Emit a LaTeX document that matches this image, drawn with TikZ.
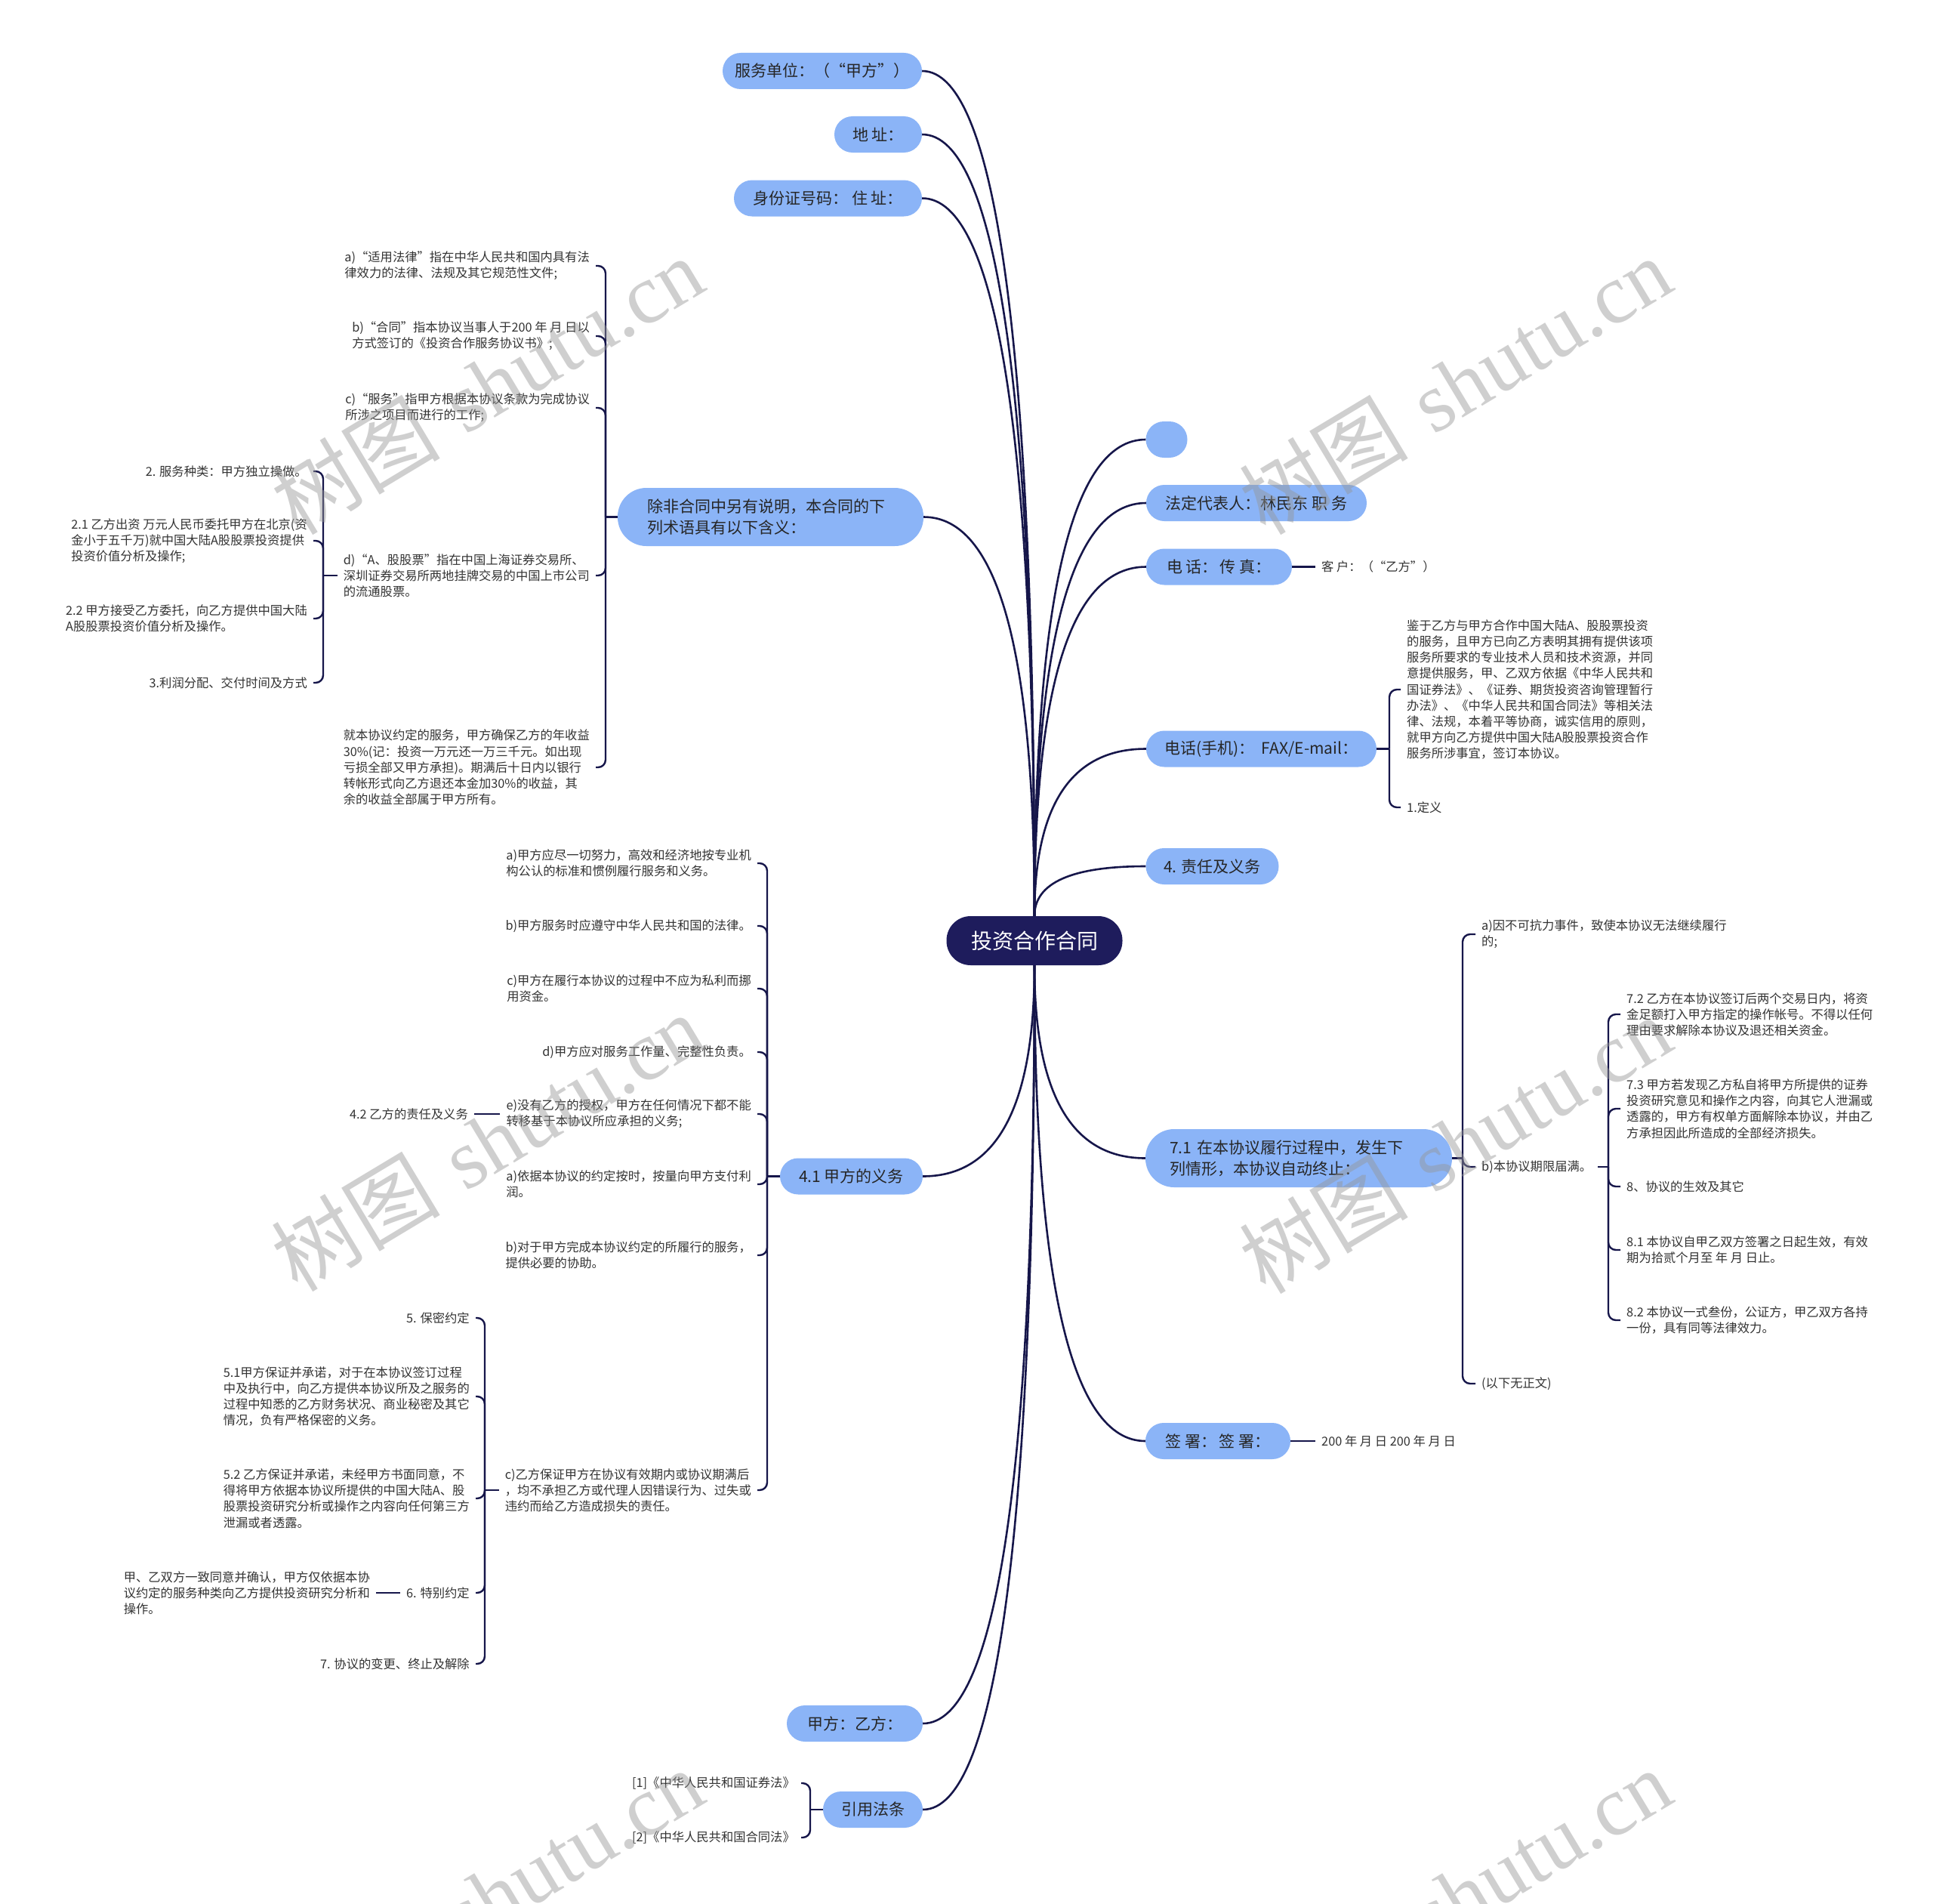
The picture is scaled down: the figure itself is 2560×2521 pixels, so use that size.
\documentclass[tikz,border=0pt]{standalone}
\usepackage{fontspec}
\setmainfont{Noto Sans CJK SC}
\newfontfamily\wmserif{Liberation Serif}
\usetikzlibrary{calc}
\definecolor{navy}{HTML}{1E1C5C}
\definecolor{edgec}{HTML}{16164A}
\definecolor{nodeblue}{HTML}{8BB4F7}
\definecolor{ntext}{HTML}{262626}
\definecolor{ltext}{HTML}{333333}
\definecolor{wm}{HTML}{969696}
\newcommand{\qedge}[2]{\draw[mainedge] (#1) .. controls ($(#1)!0.6667!(#1 |- #2)$) and ($(#2)!0.6667!(#1 |- #2)$) .. (#2);}
\begin{document}
\begin{tikzpicture}[x=1pt,y=-1pt,
  bnode/.style={fill=nodeblue, rounded corners=24pt, minimum height=48pt, inner sep=0pt, text=ntext, font=\fontsize{21}{28.5}\selectfont},
  leafR/.style={anchor=west, inner xsep=8pt, inner ysep=1pt, text=ltext, font=\fontsize{16.3}{21.2}\selectfont, align=left},
  leafL/.style={anchor=east, inner xsep=8pt, inner ysep=1pt, text=ltext, font=\fontsize{16.3}{21.2}\selectfont, align=left},
  mainedge/.style={draw=edgec, line width=2.6pt},
  sub/.style={draw=edgec, line width=2.4pt, rounded corners=10pt},
  wmark/.style={text=wm, text opacity=0.45, rotate=31, font=\fontsize{112}{112}\selectfont}
]
\useasboundingbox (0,0) rectangle (2560,2521);
\clip (0,0) rectangle (2560,2521);
\fill[white] (0,0) rectangle (2560,2521);

% centre
\node[fill=navy, rounded corners=32pt, minimum width=233pt, minimum height=65pt, inner sep=0pt, text=white, font=\fontsize{28}{34}\selectfont] (c) at (1370,1245.5) {投资合作合同};

% left branches
\node[bnode, minimum width=264pt] (l1) at (1089,94) {服务单位：（“甲方”）};
\node[bnode, minimum width=116pt] (l2) at (1163,178) {地 址：};
\node[bnode, minimum width=249pt] (l3) at (1096.5,262.5) {身份证号码：\hspace{5pt}住 址：};
\node[bnode, minimum width=405pt, minimum height=77pt, rounded corners=38pt, text width=327pt, align=left] (l4) at (1020.5,684.5) {除非合同中另有说明，本合同的下\\列术语具有以下含义：};
\node[bnode, minimum width=189pt] (l5) at (1127.5,1557.5) {4.1 甲方的义务};
\node[bnode, minimum width=180pt] (l6) at (1132,2282) {甲方：乙方：};
\node[bnode, minimum width=132pt] (l7) at (1156,2396) {引用法条};

% right branches
\node[bnode, minimum width=55pt] (r1) at (1545,582) {};
\node[bnode, minimum width=292pt] (r2) at (1664,666) {法定代表人：林民东 职 务};
\node[bnode, minimum width=193pt] (r3) at (1614.5,750.5) {电 话：\hspace{3pt}传 真：};
\node[bnode, minimum width=305pt] (r4) at (1670.5,991.5) {电话(手机)：\hspace{9pt}FAX/E-mail：};
\node[bnode, minimum width=176pt] (r5) at (1605.5,1147) {4. 责任及义务};
\node[bnode, minimum width=406pt, minimum height=77pt, rounded corners=38pt, text width=342pt, align=left] (r6) at (1720,1533.5) {7.1 在本协议履行过程中，发生下\\列情形，本协议自动终止：};
\node[bnode, minimum width=192pt] (r7) at (1613,1908) {签 署：\hspace{3pt}签 署：};

% main edges
\qedge{c.north}{l1.east}
\qedge{c.north}{l2.east}
\qedge{c.north}{l3.east}
\qedge{c.north}{l4.east}
\qedge{c.south}{l5.east}
\qedge{c.south}{l6.east}
\qedge{c.south}{l7.east}
\qedge{c.north}{r1.west}
\qedge{c.north}{r2.west}
\qedge{c.north}{r3.west}
\qedge{c.north}{r4.west}
\qedge{c.north}{r5.west}
\qedge{c.south}{r6.west}
\qedge{c.south}{r7.west}

% right leaves
\node[leafR] (kehu) at (1742,750.5) {客 户：（“乙方”）};
\node[leafR] (date) at (1742,1908) {200 年 月 日 200 年 月 日};
\draw[sub] (r3.east) -- (kehu.west);
\draw[sub] (r7.east) -- (date.west);

\coordinate (T4) at (1840,991.5);
\node[leafR] (jianyu) at (1855,913) {鉴于乙方与甲方合作中国大陆A、股股票投资\\的服务，且甲方已向乙方表明其拥有提供该项\\服务所要求的专业技术人员和技术资源，并同\\意提供服务，甲、乙双方依据《中华人民共和\\国证券法》、《证券、期货投资咨询管理暂行\\办法》、《中华人民共和国合同法》等相关法\\律、法规，本着平等协商，诚实信用的原则，\\就甲方向乙方提供中国大陆A股股票投资合作\\服务所涉事宜，签订本协议。};
\node[leafR] (dingyi) at (1855,1069) {1.定义};
\draw[sub] (r4.east) -- (T4);
\draw[sub] (T4) |- (jianyu.west);
\draw[sub] (T4) |- (dingyi.west);

\coordinate (T6) at (1937,1533.5);
\node[leafR] (a71) at (1954,1237) {a)因不可抗力事件，致使本协议无法继续履行\\的;};
\node[leafR] (b71) at (1954,1545) {b)本协议期限届满。};
\node[leafR] (wu) at (1954,1832) {(以下无正文)};
\draw[sub] (r6.east) -- (T6);
\draw[sub] (T6) |- (a71.west);
\draw[sub] (T6) |- (b71.west);
\draw[sub] (T6) |- (wu.west);

\coordinate (Tb) at (2130,1545);
\node[leafR] (s72) at (2146,1343) {7.2 乙方在本协议签订后两个交易日内，将资\\金足额打入甲方指定的操作帐号。不得以任何\\理由要求解除本协议及退还相关资金。};
\node[leafR] (s73) at (2146,1468) {7.3 甲方若发现乙方私自将甲方所提供的证券\\投资研究意见和操作之内容，向其它人泄漏或\\透露的，甲方有权单方面解除本协议，并由乙\\方承担因此所造成的全部经济损失。};
\node[leafR] (s8) at (2146,1571) {8、协议的生效及其它};
\node[leafR] (s81) at (2146,1655) {8.1 本协议自甲乙双方签署之日起生效，有效\\期为拾贰个月至 年 月 日止。};
\node[leafR] (s82) at (2146,1748) {8.2 本协议一式叁份，公证方，甲乙双方各持\\一份，具有同等法律效力。};
\draw[sub] (b71.east) -- (Tb);
\draw[sub] (Tb) |- (s72.west);
\draw[sub] (Tb) |- (s73.west);
\draw[sub] (Tb) |- (s8.west);
\draw[sub] (Tb) |- (s81.west);
\draw[sub] (Tb) |- (s82.west);

% left leaves: definitions
\coordinate (TL4) at (802,684.5);
\node[leafL] (da) at (789,352) {a)“适用法律”指在中华人民共和国内具有法\\律效力的法律、法规及其它规范性文件;};
\node[leafL] (db) at (789,445) {b)“合同”指本协议当事人于200 年 月 日以\\方式签订的《投资合作服务协议书》;};
\node[leafL] (dc) at (789,540) {c)“服务”指甲方根据本协议条款为完成协议\\所涉之项目而进行的工作;};
\node[leafL] (dd) at (789,762) {d)“A、股股票”指在中国上海证券交易所、\\深圳证券交易所两地挂牌交易的中国上市公司\\的流通股票。};
\node[leafL] (dj) at (789,1016) {就本协议约定的服务，甲方确保乙方的年收益\\30\%(记：投资一万元还一万三千元。如出现\\亏损全部又甲方承担)。期满后十日内以银行\\转帐形式向乙方退还本金加30\%的收益，其\\余的收益全部属于甲方所有。};
\draw[sub] (l4.west) -- (TL4);
\draw[sub] (TL4) |- (da.east);
\draw[sub] (TL4) |- (db.east);
\draw[sub] (TL4) |- (dc.east);
\draw[sub] (TL4) |- (dd.east);
\draw[sub] (TL4) |- (dj.east);

\coordinate (Td) at (428,762);
\node[leafL] (d2) at (415,624) {2. 服务种类：甲方独立操做。};
\node[leafL] (d21) at (415,716) {2.1 乙方出资 万元人民币委托甲方在北京(资\\金小于五千万)就中国大陆A股股票投资提供\\投资价值分析及操作;};
\node[leafL] (d22) at (415,819) {2.2 甲方接受乙方委托，向乙方提供中国大陆\\A股股票投资价值分析及操作。};
\node[leafL] (d3) at (415,904) {3.利润分配、交付时间及方式};
\draw[sub] (dd.west) -- (Td);
\draw[sub] (Td) |- (d2.east);
\draw[sub] (Td) |- (d21.east);
\draw[sub] (Td) |- (d22.east);
\draw[sub] (Td) |- (d3.east);

% left leaves: 4.1
\coordinate (T41) at (1016,1557.5);
\node[leafL] (fa) at (1003,1143) {a)甲方应尽一切努力，高效和经济地按专业机\\构公认的标准和惯例履行服务和义务。};
\node[leafL] (fb) at (1003,1226) {b)甲方服务时应遵守中华人民共和国的法律。};
\node[leafL] (fc) at (1003,1309) {c)甲方在履行本协议的过程中不应为私利而挪\\用资金。};
\node[leafL] (fd) at (1003,1393) {d)甲方应对服务工作量、完整性负责。};
\node[leafL] (fe) at (1003,1475) {e)没有乙方的授权，甲方在任何情况下都不能\\转移基于本协议所应承担的义务;};
\node[leafL] (ya) at (1003,1568) {a)依据本协议的约定按时，按量向甲方支付利\\润。};
\node[leafL] (yb) at (1003,1662) {b)对于甲方完成本协议约定的所履行的服务，\\提供必要的协助。};
\node[leafL] (yc) at (1003,1973) {c)乙方保证甲方在协议有效期内或协议期满后\\，均不承担乙方或代理人因错误行为、过失或\\违约而给乙方造成损失的责任。};
\draw[sub] (l5.west) -- (T41);
\foreach \n in {fa,fb,fc,fd,fe,ya,yb,yc} {\draw[sub] (T41) |- (\n.east);}

\node[leafL] (y42) at (628,1475) {4.2 乙方的责任及义务};
\draw[sub] (fe.west) -- (y42.east);

\coordinate (Tc) at (642,1973);
\node[leafL] (p5) at (630,1745) {5. 保密约定};
\node[leafL] (p51) at (630,1849) {5.1甲方保证并承诺，对于在本协议签订过程\\中及执行中，向乙方提供本协议所及之服务的\\过程中知悉的乙方财务状况、商业秘密及其它\\情况，负有严格保密的义务。};
\node[leafL] (p52) at (630,1984) {5.2 乙方保证并承诺，未经甲方书面同意，不\\得将甲方依据本协议所提供的中国大陆A、股\\股票投资研究分析或操作之内容向任何第三方\\泄漏或者透露。};
\node[leafL] (p6) at (630,2109) {6. 特别约定};
\node[leafL] (p7) at (630,2203) {7. 协议的变更、终止及解除};
\draw[sub] (yc.west) -- (Tc);
\foreach \n in {p5,p51,p52,p6,p7} {\draw[sub] (Tc) |- (\n.east);}

\node[leafL] (p6c) at (498,2109) {甲、乙双方一致同意并确认，甲方仅依据本协\\议约定的服务种类向乙方提供投资研究分析和\\操作。};
\draw[sub] (p6.west) -- (p6c.east);

\coordinate (T7) at (1073,2396);
\node[leafL] (f1) at (1061,2361) {[1]《中华人民共和国证券法》};
\node[leafL] (f2) at (1061,2433) {[2]《中华人民共和国合同法》};
\draw[sub] (l7.west) -- (T7);
\draw[sub] (T7) |- (f1.east);
\draw[sub] (T7) |- (f2.east);

% watermarks
\node[wmark] (w1) at (645,510) {树图\hspace{35pt}{\wmserif shutu.cn}};
\node[wmark] (w2) at (1927,510) {树图\hspace{35pt}{\wmserif shutu.cn}};
\node[wmark] (w3) at (645,1512) {树图\hspace{35pt}{\wmserif shutu.cn}};
\node[wmark] (w4) at (1927,1515) {树图\hspace{35pt}{\wmserif shutu.cn}};
\node[wmark] (w5) at (645,2512) {树图\hspace{35pt}{\wmserif shutu.cn}};
\node[wmark] (w6) at (1927,2512) {树图\hspace{35pt}{\wmserif shutu.cn}};
\end{tikzpicture}
\end{document}
